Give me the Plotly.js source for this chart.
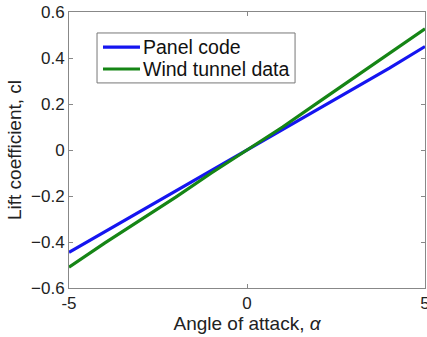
<!DOCTYPE html>
<html>
<head>
<meta charset="utf-8">
<script src="https://cdn.plot.ly/plotly-3.0.1.min.js"></script>
<style>html,body{margin:0;padding:0;background:#fff;}#chart{width:427px;height:337px;}</style>
</head>
<body>
<div id="chart"></div>
<script>
const alpha = [-5, -4, -3, -2, -1, 0, 1, 2, 3, 4, 5];
const panelCode = [-0.445, -0.356, -0.267, -0.178, -0.089, 0.0, 0.089, 0.178, 0.267, 0.356, 0.45];
const windTunnel = [-0.51, -0.405, -0.305, -0.205, -0.10, 0.0, 0.10, 0.207, 0.314, 0.42, 0.527];
const seriesNames = ["Panel code", "Wind tunnel data"];
const seriesColors = ["#1515f0", "#158515"];
const xTicks = [-5, 0, 5];
const yTicks = [-0.6, -0.4, -0.2, 0, 0.2, 0.4, 0.6];

const fam = "Liberation Sans, Arial, sans-serif";

const traces = [
  {x: alpha, y: panelCode, name: seriesNames[0], mode: "lines", line: {color: seriesColors[0], width: 3.2}},
  {x: alpha, y: windTunnel, name: seriesNames[1], mode: "lines", line: {color: seriesColors[1], width: 3.2}}
];

const axisCommon = {
  showgrid: false, zeroline: false, showline: true, mirror: "ticks",
  linecolor: "#888", linewidth: 1, ticks: "inside", ticklen: 4, tickcolor: "#888",
  tickfont: {family: fam, size: 17, color: "#222"}, ticklabeloverflow: "allow"
};

// Legend drawn as a boxed key (paper coordinates)
const legBox = {x0: 0.0787, x1: 0.635, y0: 0.743, y1: 0.924};
const legRows = [0.873, 0.7935];
const legLineX = [0.0955, 0.1994];
const legTextX = 0.205;

const shapes = [
  {type: "rect", xref: "paper", yref: "paper", x0: legBox.x0, x1: legBox.x1, y0: legBox.y0, y1: legBox.y1,
   line: {color: "#777", width: 1}, fillcolor: "#fff", layer: "above"}
];
const annotations = [];
seriesNames.forEach((name, i) => {
  shapes.push({type: "line", xref: "paper", yref: "paper", x0: legLineX[0], x1: legLineX[1],
               y0: legRows[i], y1: legRows[i], line: {color: seriesColors[i], width: 3.2}, layer: "above"});
  annotations.push({xref: "paper", yref: "paper", x: legTextX, y: legRows[i], xanchor: "left", yanchor: "middle",
                    text: name, showarrow: false, borderpad: 0, font: {family: fam, size: 19.5, color: "#111"}});
});

const layout = {
  width: 427, height: 337,
  margin: {l: 69, r: 2, t: 12, b: 49},
  paper_bgcolor: "#fff", plot_bgcolor: "#fff",
  font: {family: fam, size: 17, color: "#222"},
  showlegend: false,
  shapes: shapes,
  annotations: annotations,
  xaxis: Object.assign({}, axisCommon, {
    range: [-5, 5], tickvals: xTicks, ticktext: xTicks.map(String),
    title: {text: "Angle of attack, <i>α</i>", font: {family: fam, size: 19, color: "#222"}, standoff: 2}
  }),
  yaxis: Object.assign({}, axisCommon, {
    range: [-0.6, 0.6], tickvals: yTicks, ticktext: yTicks.map(v => v === 0 ? "0" : (v < 0 ? "\u2212" + Math.abs(v).toFixed(1) : v.toFixed(1))),
    title: {text: "Lift coefficient, cl", font: {family: fam, size: 19, color: "#222"}, standoff: 4}
  })
};

Plotly.newPlot("chart", traces, layout, {displayModeBar: false, staticPlot: true});
</script>
</body>
</html>
